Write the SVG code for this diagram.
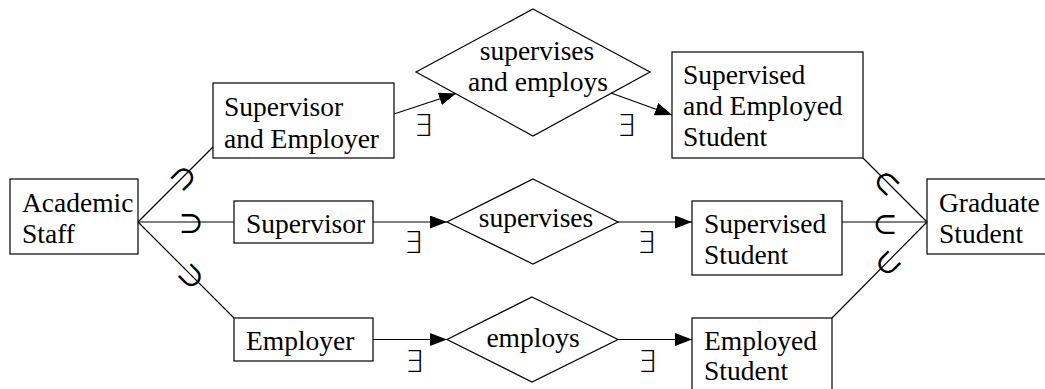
<svg xmlns="http://www.w3.org/2000/svg" width="1045" height="389" viewBox="0 0 1045 389">
  <style>
    .box { fill: #ffffff; stroke: #000000; stroke-width: 1.2; }
    .edge { fill: none; stroke: #000000; stroke-width: 1.2; }
    .lbl { font-family: 'Liberation Serif', serif; font-size: 27.5px; fill: #000000; }
    .mid { text-anchor: middle; }
    .sym { font-family: 'DejaVu Sans', 'DejaVu Serif', sans-serif; font-weight: 200; font-size: 30px; fill: #000000; text-anchor: middle; }
    .rel { dominant-baseline: central; }
  </style>
  <defs>
    <marker id="arrow" markerUnits="userSpaceOnUse" markerWidth="18" markerHeight="14" refX="17" refY="6.5" orient="auto">
      <path d="M0,0 L17,6.5 L0,13 Z" fill="#000000"/>
    </marker>
  </defs>

  <rect width="1045" height="389" fill="#ffffff"/>

  <!-- entity and relationship nodes -->
  <g id="academic-staff">
    <rect class="box" x="10" y="179" width="128" height="75"/>
    <text class="lbl" x="22" y="212">Academic</text>
    <text class="lbl" x="22" y="243">Staff</text>
  </g>
  <g id="supervisor-and-employer">
    <rect class="box" x="213" y="83" width="181" height="75"/>
    <text class="lbl" x="224" y="116">Supervisor</text>
    <text class="lbl" x="224" y="148">and Employer</text>
  </g>
  <g id="supervisor">
    <rect class="box" x="234" y="201" width="139" height="42"/>
    <text class="lbl" x="246" y="233">Supervisor</text>
  </g>
  <g id="employer">
    <rect class="box" x="234" y="318" width="139" height="43"/>
    <text class="lbl" x="246" y="350">Employer</text>
  </g>
  <g id="supervises-and-employs">
    <polygon class="box" points="533,9 650,72 533,136 416,72"/>
    <text class="lbl mid" x="537" y="60">supervises</text>
    <text class="lbl mid" x="538" y="91">and employs</text>
  </g>
  <g id="supervises">
    <polygon class="box" points="533,179 618,222 533,264 447,222"/>
    <text class="lbl mid" x="536" y="227">supervises</text>
  </g>
  <g id="employs">
    <polygon class="box" points="532,297 618,339.5 532,382 447,339.5"/>
    <text class="lbl mid" x="533" y="347">employs</text>
  </g>
  <g id="supervised-and-employed-student">
    <rect class="box" x="672" y="52" width="191" height="106"/>
    <text class="lbl" x="683" y="84">Supervised</text>
    <text class="lbl" x="683" y="115">and Employed</text>
    <text class="lbl" x="683" y="146">Student</text>
  </g>
  <g id="supervised-student">
    <rect class="box" x="692" y="201" width="150" height="74"/>
    <text class="lbl" x="704" y="233">Supervised</text>
    <text class="lbl" x="704" y="264">Student</text>
  </g>
  <g id="employed-student">
    <rect class="box" x="692" y="318" width="140" height="90"/>
    <text class="lbl" x="704" y="350">Employed</text>
    <text class="lbl" x="704" y="380">Student</text>
  </g>
  <g id="graduate-student">
    <rect class="box" x="927" y="179" width="140" height="75"/>
    <text class="lbl" x="939" y="212">Graduate</text>
    <text class="lbl" x="939" y="243">Student</text>
  </g>

  <!-- connectors with their labels -->
  <g id="connectors">
    <line class="edge" x1="138" y1="222" x2="213" y2="147"/>
    <line class="edge" x1="138" y1="222" x2="234" y2="222"/>
    <line class="edge" x1="138" y1="222" x2="234" y2="318"/>

    <line class="edge" x1="394" y1="114" x2="456" y2="93.5" marker-end="url(#arrow)"/>
    <line class="edge" x1="611" y1="93" x2="672" y2="115" marker-end="url(#arrow)"/>
    <line class="edge" x1="373" y1="222" x2="447" y2="222" marker-end="url(#arrow)"/>
    <line class="edge" x1="618" y1="222" x2="692" y2="222" marker-end="url(#arrow)"/>
    <line class="edge" x1="373" y1="339.5" x2="447" y2="339.5" marker-end="url(#arrow)"/>
    <line class="edge" x1="618" y1="339.5" x2="692" y2="339.5" marker-end="url(#arrow)"/>

    <line class="edge" x1="863" y1="158" x2="927" y2="222"/>
    <line class="edge" x1="842" y1="222" x2="927" y2="222"/>
    <line class="edge" x1="832" y1="318" x2="927" y2="222"/>

    <!-- existential labels -->
    <text class="sym" x="423" y="136">∃</text>
    <text class="sym" x="626" y="136">∃</text>
    <text class="sym" x="413" y="253">∃</text>
    <text class="sym" x="646" y="253">∃</text>
    <text class="sym" x="414" y="372">∃</text>
    <text class="sym" x="647" y="372">∃</text>

    <!-- subset labels -->
    <text class="sym rel" transform="translate(183,177) rotate(-45)">⊃</text>
    <text class="sym rel" transform="translate(191,222)">⊃</text>
    <text class="sym rel" transform="translate(192,276) rotate(45)">⊃</text>
    <text class="sym rel" transform="translate(887,182) rotate(45)">⊂</text>
    <text class="sym rel" transform="translate(885,223)">⊂</text>
    <text class="sym rel" transform="translate(887,263) rotate(-45)">⊂</text>
  </g>
</svg>
